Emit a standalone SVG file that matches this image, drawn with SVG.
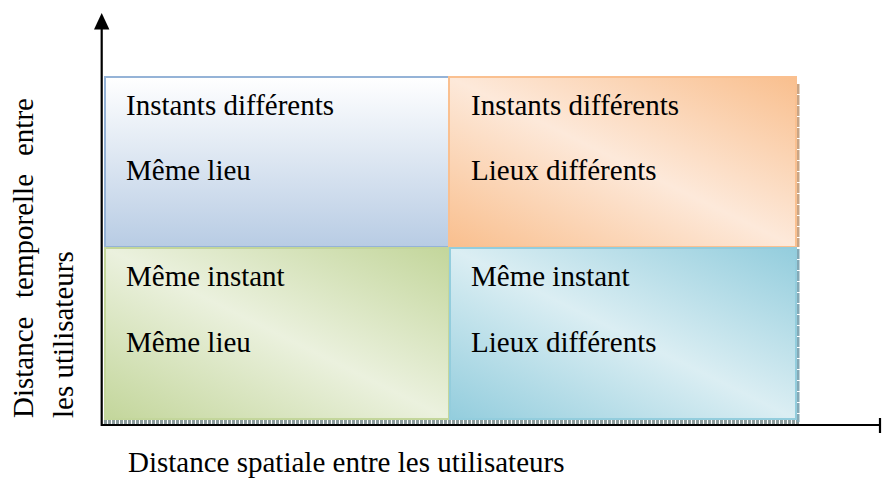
<svg xmlns="http://www.w3.org/2000/svg" width="882" height="481" viewBox="0 0 882 481">
<style>
  text { font-family: "Liberation Serif", "Times New Roman", serif; font-size: 29px; fill: #000; }
  .axis { stroke: #000; stroke-width: 2.2; fill: none; }
  .cell { stroke-width: 2; }
</style>
<defs>
  <linearGradient id="gBlue" x1="0" y1="0" x2="0" y2="1">
    <stop offset="0" stop-color="#ffffff"/>
    <stop offset="1" stop-color="#b8cce4"/>
  </linearGradient>
  <linearGradient id="gOrange" x1="1" y1="0" x2="0" y2="1">
    <stop offset="0" stop-color="#f9bf8e"/>
    <stop offset="0.5" stop-color="#fde9da"/>
    <stop offset="1" stop-color="#f9bf8e"/>
  </linearGradient>
  <linearGradient id="gGreen" x1="1" y1="0" x2="0" y2="1">
    <stop offset="0" stop-color="#c3d69b"/>
    <stop offset="0.5" stop-color="#ebf1de"/>
    <stop offset="1" stop-color="#c3d69b"/>
  </linearGradient>
  <linearGradient id="gCyan" x1="1" y1="0" x2="0" y2="1">
    <stop offset="0" stop-color="#93cddd"/>
    <stop offset="0.5" stop-color="#dbeef3"/>
    <stop offset="1" stop-color="#93cddd"/>
  </linearGradient>
</defs>

<!-- shadow strips -->
<g id="shadows">
  <line x1="104" y1="422" x2="799" y2="422" stroke="#8c9c9c" stroke-width="4" stroke-dasharray="3 1"/>
  <line x1="798" y1="84" x2="798" y2="247" stroke="#c9a585" stroke-width="3" stroke-dasharray="10 1"/>
  <line x1="798" y1="249" x2="798" y2="422" stroke="#84a9b6" stroke-width="3" stroke-dasharray="10 1"/>
</g>

<g id="cell-tl">
  <rect class="cell" x="105" y="77" width="344" height="170" fill="url(#gBlue)" stroke="#95b3d7"/>
  <text x="126" y="115">Instants différents</text>
  <text x="126" y="180">Même lieu</text>
</g>
<g id="cell-tr">
  <rect class="cell" x="449" y="77" width="347" height="170" fill="url(#gOrange)" stroke="#fac090"/>
  <text x="471" y="115">Instants différents</text>
  <text x="471" y="180">Lieux différents</text>
</g>
<g id="cell-bl">
  <rect class="cell" x="105" y="248" width="344" height="171" fill="url(#gGreen)" stroke="#c3d69b"/>
  <text x="126" y="286">Même instant</text>
  <text x="126" y="352">Même lieu</text>
</g>
<g id="cell-br">
  <rect class="cell" x="450" y="248" width="346" height="171" fill="url(#gCyan)" stroke="#93cddd"/>
  <text x="471" y="286">Même instant</text>
  <text x="471" y="352">Lieux différents</text>
</g>

<g id="connectors">
  <line class="axis" x1="101.7" y1="426" x2="101.7" y2="28"/>
  <polygon points="101.7,13 94,29.5 109.4,29.5" fill="#000"/>
  <line class="axis" x1="101" y1="425" x2="880" y2="425"/>
  <line class="axis" x1="880" y1="418" x2="880" y2="433"/>
</g>

<g id="labels">
  <text x="128" y="472">Distance spatiale entre les utilisateurs</text>
  <g transform="rotate(-90)">
    <text x="-418" y="33">Distance</text>
    <text x="-298" y="33">temporelle</text>
    <text x="-156" y="33">entre</text>
    <text x="-418" y="73">les utilisateurs</text>
  </g>
</g>
</svg>
